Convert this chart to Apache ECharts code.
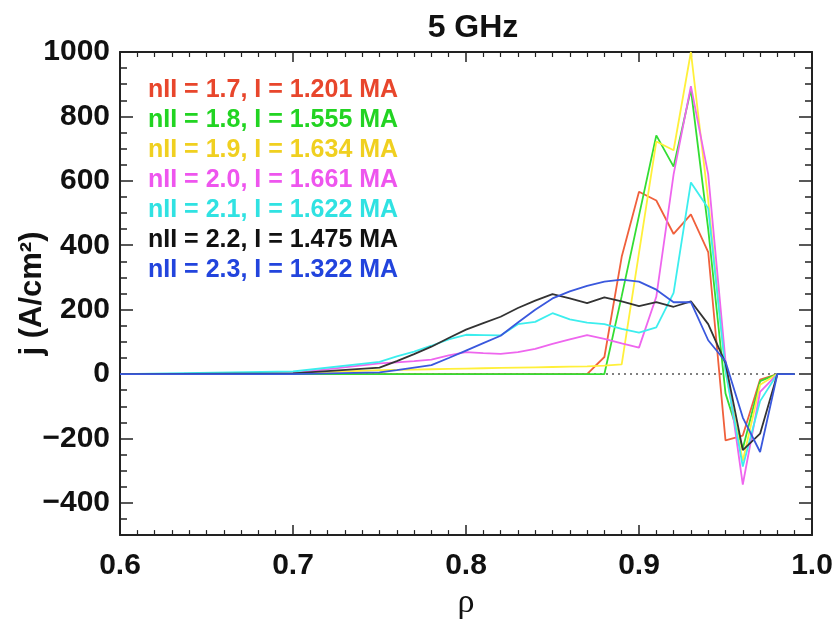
<!DOCTYPE html>
<html>
<head>
<meta charset="utf-8">
<script src="https://cdn.jsdelivr.net/npm/echarts@6/dist/echarts.min.js"></script>
<style>html,body{margin:0;padding:0;background:#fff}#chart{width:838px;height:625px}</style>
</head>
<body>
<div id="chart"></div>
<script>
// rho grid
var rho = [0.6, 0.7, 0.75, 0.76, 0.77, 0.78, 0.79, 0.80, 0.81, 0.82, 0.83, 0.84, 0.85, 0.86, 0.87, 0.88, 0.89, 0.90, 0.91, 0.92, 0.93, 0.94, 0.95, 0.96, 0.97, 0.98, 0.99];
var seriesNames = ["nII = 1.7, I = 1.201 MA", "nII = 1.8, I = 1.555 MA", "nII = 1.9, I = 1.634 MA", "nII = 2.0, I = 1.661 MA", "nII = 2.1, I = 1.622 MA", "nII = 2.2, I = 1.475 MA", "nII = 2.3, I = 1.322 MA"];
var j17 = [0, 0, 0, 0, 0, 0, 0, 0, 0, 0, 0, 0, 0, 0, 0, 53, 364, 566, 539, 435, 496, 379, -206, -191, -17, 0, 0];
var j18 = [0, 0, 0, 0, 0, 0, 0, 0, 0, 0, 0, 0, 0, 0, 0, 0, 242, 492, 741, 644, 884, 450, -60, -231, -22, 0, 0];
var j19 = [0, 2, 12, 13, 14, 15, 16, 17, 18, 19, 20, 21, 22, 23, 24, 26, 30, 376, 722, 695, 1000, 540, 10, -270, -33, 0, 0];
var j20 = [0, 3, 33, 36, 40, 45, 58, 68, 65, 63, 68, 78, 94, 108, 121, 109, 95, 82, 240, 620, 894, 620, 40, -343, -55, 0, 0];
var j21 = [0, 8, 38, 55, 70, 88, 108, 122, 121, 120, 155, 162, 189, 170, 160, 155, 140, 129, 145, 252, 595, 515, 10, -287, -84, 0, 0];
var j22 = [0, 2, 20, 40, 62, 85, 112, 138, 158, 178, 205, 228, 248, 235, 220, 238, 226, 211, 223, 209, 226, 155, 34, -236, -185, 0, 0];
var j23 = [0, 0, 5, 12, 20, 28, 50, 73, 96, 119, 160, 200, 235, 257, 274, 287, 293, 287, 262, 223, 223, 105, 39, -135, -242, 0, 0];
var xTicks = [0.6, 0.7, 0.8, 0.9, 1.0];
var yTicks = [-400, -200, 0, 200, 400, 600, 800, 1000];

var allValues = [j17, j18, j19, j20, j21, j22, j23];
var lineColors = ["#f0603c", "#33dd33", "#fff03a", "#ee66ee", "#3ceeee", "#333333", "#3a58dd"];
var textColors = ["#e8462c", "#22d422", "#f0d020", "#ee55ee", "#30e2e2", "#111111", "#2244dd"];

var FONT = "'Liberation Sans', Arial, sans-serif";
var AX = "#222";

var series = [{
  type: 'line',
  name: 'zero',
  data: rho.map(function (r) { return [r, 0]; }),
  showSymbol: false,
  silent: true,
  lineStyle: { color: '#555', width: 1.5, type: [2, 4] },
  z: 1
}];
allValues.forEach(function (vals, i) {
  series.push({
    type: 'line',
    name: seriesNames[i],
    data: rho.map(function (r, k) { return [r, vals[k]]; }),
    showSymbol: false,
    lineStyle: { color: lineColors[i], width: 1.8 },
    itemStyle: { color: lineColors[i] },
    z: 2 + i
  });
});

var chart = echarts.init(document.getElementById('chart'), null, { renderer: 'canvas' });
chart.setOption({
  animation: false,
  backgroundColor: '#fff',
  title: {
    text: '5 GHz',
    left: 468, textAlign: 'center',
    top: 7,
    textStyle: { fontFamily: FONT, fontWeight: 'bold', fontSize: 32, color: '#111' }
  },
  legend: {
    orient: 'vertical',
    left: 138, top: 70,
    icon: 'none',
    itemWidth: 0, itemHeight: 14, itemGap: 0,
    selectedMode: false,
    textStyle: { fontFamily: FONT, fontWeight: 'bold', fontSize: 25, lineHeight: 30 },
    data: seriesNames.map(function (n, i) { return { name: n, textStyle: { color: textColors[i] } }; })
  },
  grid: { left: 120, right: 26, top: 52, bottom: 82, containLabel: false },
  xAxis: [{
    type: 'value', min: 0.6, max: 1.0, interval: 0.1, position: 'bottom',
    name: 'ρ', nameLocation: 'middle', nameGap: 48,
    nameTextStyle: { fontFamily: "'Liberation Serif', 'DejaVu Serif', serif", fontSize: 34, color: '#111' },
    axisLine: { show: true, onZero: false, lineStyle: { color: AX, width: 2 } },
    axisTick: { show: true, inside: true, length: 10, lineStyle: { color: AX, width: 1.5 } },
    minorTick: { show: true, splitNumber: 10, length: 5, lineStyle: { color: AX, width: 1.2 } },
    splitLine: { show: false },
    axisLabel: {
      margin: 16, fontFamily: FONT, fontWeight: 'bold', fontSize: 30, color: '#111',
      customValues: xTicks,
      formatter: function (v) { return v.toFixed(1); }
    }
  }, {
    type: 'value', min: 0.6, max: 1.0, interval: 0.1, position: 'top',
    axisLine: { show: true, onZero: false, lineStyle: { color: AX, width: 2 } },
    axisTick: { show: true, inside: true, length: 10, lineStyle: { color: AX, width: 1.5 } },
    minorTick: { show: true, splitNumber: 10, length: 5, lineStyle: { color: AX, width: 1.2 } },
    splitLine: { show: false },
    axisLabel: { show: false }
  }],
  yAxis: [{
    type: 'value', min: -500, max: 1000, interval: 50, position: 'left',
    name: 'j (A/cm²)', nameLocation: 'middle', nameGap: 72,
    nameTextStyle: { fontFamily: FONT, fontWeight: 'bold', fontSize: 31, color: '#111' },
    axisLine: { show: true, onZero: false, lineStyle: { color: AX, width: 2 } },
    axisTick: { show: true, inside: true, length: 7, lineStyle: { color: AX, width: 1.5 } },
    splitLine: { show: false },
    axisLabel: { show: false }
  }, {
    type: 'value', min: -500, max: 1000, interval: 50, position: 'left',
    axisLine: { show: false },
    axisTick: { show: true, inside: true, length: 13, customValues: yTicks, lineStyle: { color: AX, width: 1.5 } },
    splitLine: { show: false },
    axisLabel: {
      show: true, margin: 10, customValues: yTicks,
      fontFamily: FONT, fontWeight: 'bold', fontSize: 30, color: '#111',
      formatter: function (v) { return String(v).replace('-', '\u2212'); }
    }
  }, {
    type: 'value', min: -500, max: 1000, interval: 50, position: 'right',
    axisLine: { show: true, onZero: false, lineStyle: { color: AX, width: 2 } },
    axisTick: { show: true, inside: true, length: 7, lineStyle: { color: AX, width: 1.5 } },
    splitLine: { show: false },
    axisLabel: { show: false }
  }, {
    type: 'value', min: -500, max: 1000, interval: 50, position: 'right',
    axisLine: { show: false },
    axisTick: { show: true, inside: true, length: 13, customValues: yTicks, lineStyle: { color: AX, width: 1.5 } },
    splitLine: { show: false },
    axisLabel: { show: false }
  }],
  series: series
});
</script>
</body>
</html>
